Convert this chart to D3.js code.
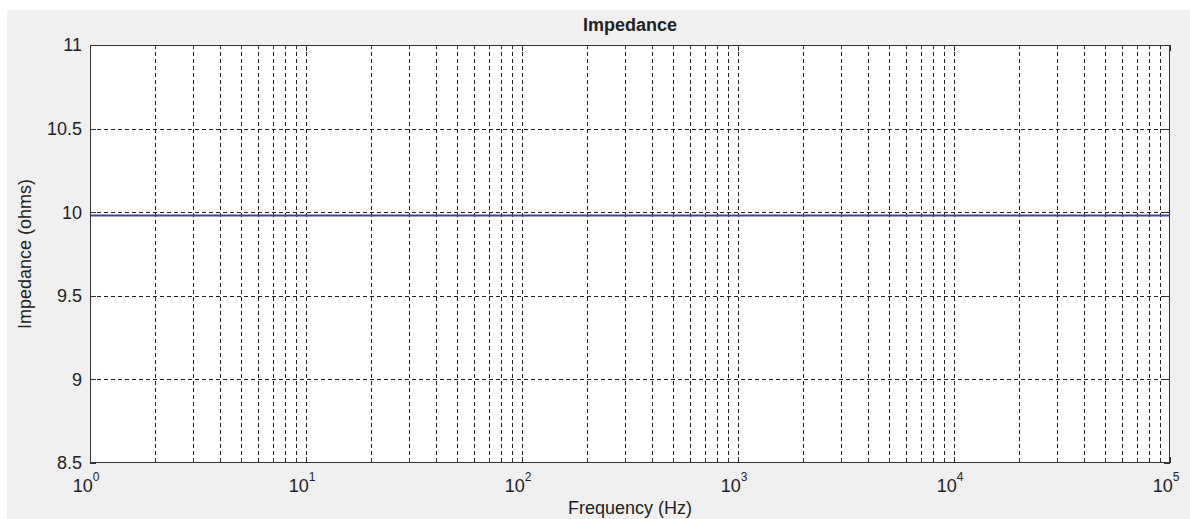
<!DOCTYPE html>
<html>
<head>
<meta charset="utf-8">
<script src="https://cdn.jsdelivr.net/npm/d3@7"></script>
<style>
  html, body { margin: 0; padding: 0; background: #fff; }
  svg { display: block; }
  text { font-family: "Liberation Sans", Arial, sans-serif; fill: #222; }
</style>
</head>
<body>
<div id="chart"></div>
<script>
// data
const freqHz = [1, 10, 100, 1000, 10000, 100000]
const impedanceOhms = [9.98, 9.98, 9.98, 9.98, 9.98, 9.98]
const yTicks = [8.5, 9, 9.5, 10, 10.5, 11]
const decadeExps = [0, 1, 2, 3, 4, 5]

const W = 1190, H = 519
const margin = {top: 45, right: 20, bottom: 56, left: 90}

const svg = d3.select("#chart").append("svg")
    .attr("width", W)
    .attr("height", H)

// figure background (grey panel with a thin white strip top/left)
svg.append("rect").attr("x", 7).attr("y", 10).attr("width", W - 7).attr("height", H - 10).attr("fill", "#f0f0f0")

const x = d3.scaleLog().domain([1, 1e5]).range([margin.left, W - margin.right])
const y = d3.scaleLinear().domain([8.5, 11]).range([H - margin.bottom, margin.top])

const x0 = x.range()[0], x1 = x.range()[1]
const y0 = y.range()[0], y1 = y.range()[1]

svg.append("rect")
    .attr("x", x0).attr("y", y1)
    .attr("width", x1 - x0).attr("height", y0 - y1)
    .attr("fill", "#fff")

// all log ticks, 1..9 per decade
const logTicks = x.ticks().filter(d => d > 1 && d < 1e5)
const majors = decadeExps.map(e => Math.pow(10, e))

const grid = svg.append("g")
    .attr("stroke", "#222")
    .attr("stroke-width", 1)
    .attr("stroke-dasharray", "4,3")
    .attr("shape-rendering", "crispEdges")

grid.selectAll("line.v")
    .data(logTicks)
    .enter().append("line")
    .attr("class", "v")
    .attr("x1", d => Math.round(x(d)) + 0.5)
    .attr("x2", d => Math.round(x(d)) + 0.5)
    .attr("y1", y1).attr("y2", y0)

grid.selectAll("line.h")
    .data(yTicks.filter(d => d > 8.5 && d < 11))
    .enter().append("line")
    .attr("class", "h")
    .attr("x1", x0).attr("x2", x1)
    .attr("y1", d => Math.round(y(d)) + 0.5)
    .attr("y2", d => Math.round(y(d)) + 0.5)

// ticks on all four sides, pointing inward
const ticks = svg.append("g").attr("stroke", "#333").attr("shape-rendering", "crispEdges")
logTicks.concat(majors).forEach(d => {
    const isMajor = majors.includes(d)
    const len = isMajor ? 6 : 3
    const px = Math.round(x(d)) + 0.5
    ticks.append("line").attr("x1", px).attr("x2", px).attr("y1", y0).attr("y2", y0 - len)
    ticks.append("line").attr("x1", px).attr("x2", px).attr("y1", y1).attr("y2", y1 + len)
})
yTicks.forEach(d => {
    const py = Math.round(y(d)) + 0.5
    ticks.append("line").attr("x1", x0).attr("x2", x0 + 6).attr("y1", py).attr("y2", py)
    ticks.append("line").attr("x1", x1).attr("x2", x1 - 6).attr("y1", py).attr("y2", py)
})

// data line
const line = d3.line()
    .x((d, i) => x(freqHz[i]))
    .y(d => y(d))

svg.append("path")
    .datum(impedanceOhms)
    .attr("fill", "none")
    .attr("stroke", "#45458a")
    .attr("stroke-width", 2)
    .attr("d", line)

// axes box
svg.append("rect")
    .attr("x", x0 + 0.5).attr("y", y1 + 0.5)
    .attr("width", x1 - x0 - 1).attr("height", y0 - y1 - 1)
    .attr("fill", "none")
    .attr("stroke", "#333")
    .attr("stroke-width", 1)
    .attr("shape-rendering", "crispEdges")

// y tick labels
svg.append("g").selectAll("text")
    .data(yTicks)
    .enter().append("text")
    .attr("x", x0 - 8)
    .attr("y", d => y(d))
    .attr("dy", "0.35em")
    .attr("text-anchor", "end")
    .attr("font-size", 18)
    .text(d => d)

// x tick labels 10^n
const xl = svg.append("g").selectAll("text")
    .data(decadeExps)
    .enter().append("text")
    .attr("x", d => x(Math.pow(10, d)) - 4)
    .attr("y", y0 + 29)
    .attr("text-anchor", "middle")
    .attr("font-size", 18)
xl.append("tspan").text("10")
xl.append("tspan").attr("font-size", 12).attr("dy", -11).text(d => d)

// title and axis labels
svg.append("text")
    .attr("x", (x0 + x1) / 2)
    .attr("y", 31)
    .attr("text-anchor", "middle")
    .attr("font-size", 18)
    .attr("font-weight", "bold")
    .text("Impedance")

svg.append("text")
    .attr("x", (x0 + x1) / 2)
    .attr("y", 514)
    .attr("text-anchor", "middle")
    .attr("font-size", 18)
    .text("Frequency (Hz)")

svg.append("text")
    .attr("transform", `translate(31,${(y0 + y1) / 2}) rotate(-90)`)
    .attr("text-anchor", "middle")
    .attr("font-size", 18)
    .text("Impedance (ohms)")
</script>
</body>
</html>
